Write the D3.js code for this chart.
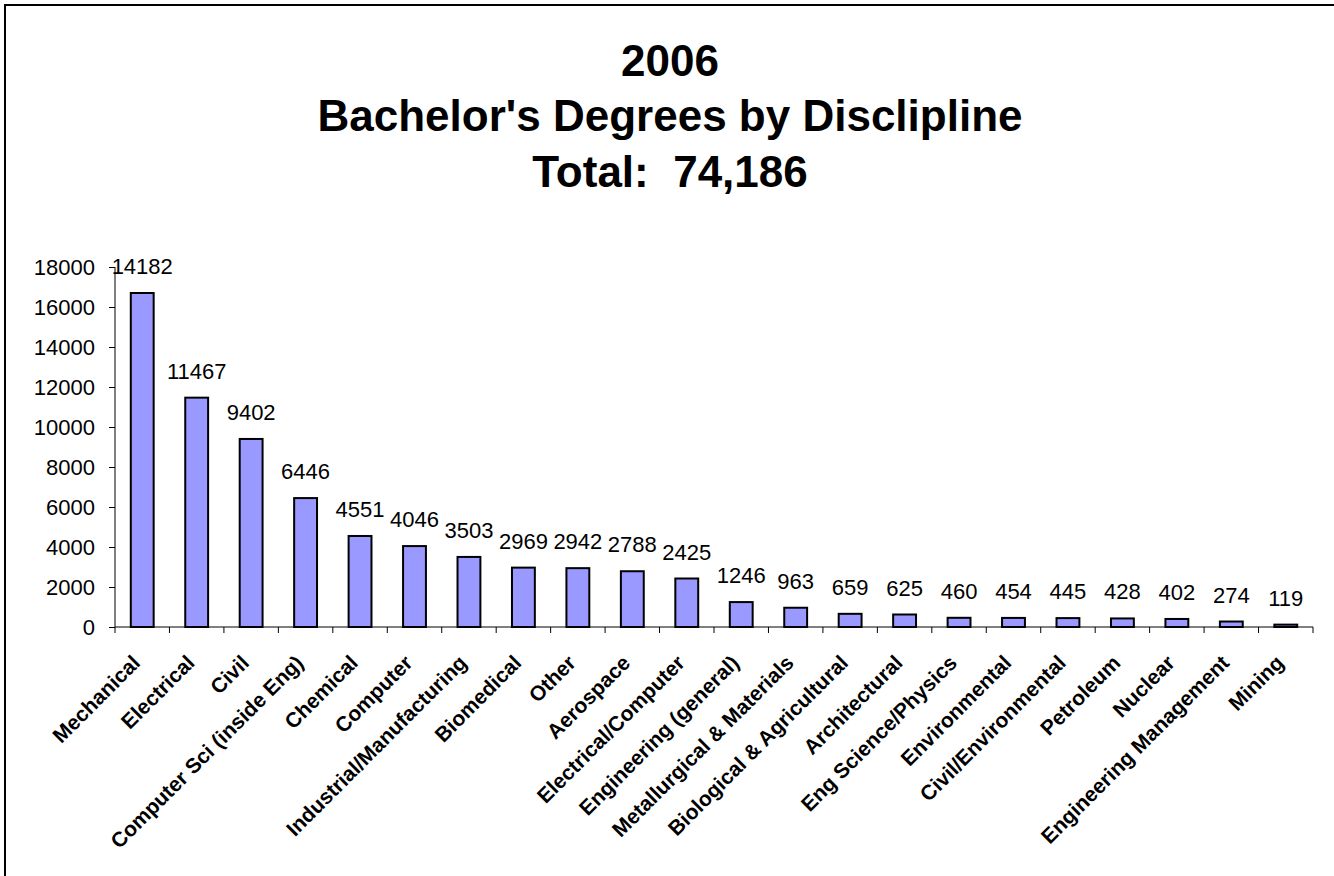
<!DOCTYPE html>
<html>
<head>
    <meta charset="utf-8">
    <script src="https://d3js.org/d3.v7.min.js"></script>
    <style>
        body { margin: 0; background: #fff; }
        text { font-family: "Liberation Sans", Arial, sans-serif; fill: #000; }
        .title { font-size: 44px; font-weight: bold; text-anchor: middle; }
        .axis text { font-size: 22px; }
        .axis path, .axis line { stroke: #000; stroke-width: 1px; }
        .bar { fill: #9999ff; stroke: #000; stroke-width: 2px; }
        .bartext { font-size: 22px; text-anchor: middle; }
        .catlabel { font-size: 21px; font-weight: bold; text-anchor: end; }
    </style>
</head>
<body>
<script type="text/javascript">

    // Chart data
    var titleLines = ["2006", "Bachelor's Degrees by Disclipline", "Total:  74,186"];
    var categories = ["Mechanical", "Electrical", "Civil", "Computer Sci (inside Eng)", "Chemical",
                      "Computer", "Industrial/Manufacturing", "Biomedical", "Other", "Aerospace",
                      "Electrical/Computer", "Engineering (general)", "Metallurgical & Materials",
                      "Biological & Agricultural", "Architectural", "Eng Science/Physics",
                      "Environmental", "Civil/Environmental", "Petroleum", "Nuclear",
                      "Engineering Management", "Mining"];
    // bar heights as drawn
    var barValues = [16700, 11467, 9402, 6446, 4551, 4046, 3503, 2969, 2942, 2788, 2425,
                     1246, 963, 659, 625, 460, 454, 445, 428, 402, 274, 119];
    // numbers printed above the bars
    var labelValues = [14182, 11467, 9402, 6446, 4551, 4046, 3503, 2969, 2942, 2788, 2425,
                       1246, 963, 659, 625, 460, 454, 445, 428, 402, 274, 119];
    var yTicks = [0, 2000, 4000, 6000, 8000, 10000, 12000, 14000, 16000, 18000];

    function draw() {
        var totalWidth = 1334, totalHeight = 876;
        var plot = { left: 115, right: 1313, top: 267, bottom: 627 };

        var svg = d3.select("body")
                    .append("svg")
                    .attr("width", totalWidth)
                    .attr("height", totalHeight);

        // outer frame (runs off the right and bottom edges)
        svg.append("rect")
           .attr("x", 5).attr("y", 5)
           .attr("width", totalWidth + 10).attr("height", totalHeight + 10)
           .attr("fill", "none")
           .attr("stroke", "#000")
           .attr("stroke-width", 2);

        // Title
        var titleBase = [76, 131, 187];
        svg.selectAll(".title")
           .data(titleLines)
           .enter().append("text")
           .attr("class", "title")
           .attr("x", 670)
           .attr("y", function(d, i) { return titleBase[i]; })
           .attr("xml:space", "preserve")
           .text(function(d) { return d; });

        // Scales
        var x = d3.scaleBand()
                  .domain(categories)
                  .range([plot.left, plot.right])
                  .padding(0);
        var y = d3.scaleLinear()
                  .domain([0, 18000])
                  .range([plot.bottom, plot.top]);

        // y axis
        var yAxis = svg.append("g")
           .attr("class", "axis axis--y")
           .attr("transform", "translate(" + plot.left + ",0)")
           .call(d3.axisLeft(y).tickValues(yTicks).tickSize(6).tickSizeOuter(0).tickPadding(14)
                   .tickFormat(function(d) { return d; }));
        yAxis.select(".domain").attr("d", "M0," + plot.top + "V" + plot.bottom);

        // x axis line and ticks at category boundaries
        var xAxis = svg.append("g").attr("class", "axis axis--x");
        xAxis.append("line")
             .attr("x1", plot.left).attr("x2", plot.right)
             .attr("y1", plot.bottom).attr("y2", plot.bottom);
        var bounds = categories.map(function(d) { return x(d); }).concat([plot.right]);
        xAxis.selectAll(".xtick")
             .data(bounds)
             .enter().append("line")
             .attr("class", "xtick")
             .attr("x1", function(d) { return d; }).attr("x2", function(d) { return d; })
             .attr("y1", plot.bottom).attr("y2", plot.bottom + 6);

        // Bars
        var barW = x.bandwidth() * 0.42;
        svg.selectAll(".bar")
           .data(barValues)
           .enter().append("rect")
           .attr("class", "bar")
           .attr("x", function(d, i) { return x(categories[i]) + (x.bandwidth() - barW) / 2; })
           .attr("y", function(d) { return y(d); })
           .attr("width", barW)
           .attr("height", function(d) { return y(0) - y(d); });

        // Value labels
        svg.selectAll(".bartext")
           .data(labelValues)
           .enter().append("text")
           .attr("class", "bartext")
           .attr("x", function(d, i) { return x(categories[i]) + x.bandwidth() / 2; })
           .attr("y", function(d, i) { return y(barValues[i]) - 19; })
           .text(function(d) { return d; });

        // Category labels, rotated
        svg.selectAll(".catlabel")
           .data(categories)
           .enter().append("text")
           .attr("class", "catlabel")
           .attr("transform", function(d) {
               return "translate(" + (x(d) + x.bandwidth() / 2 - 6) + "," + (plot.bottom + 32) + ") rotate(-45)";
           })
           .attr("dy", "0.35em")
           .text(function(d) { return d; });
    }

    draw();
</script>
</body>
</html>
